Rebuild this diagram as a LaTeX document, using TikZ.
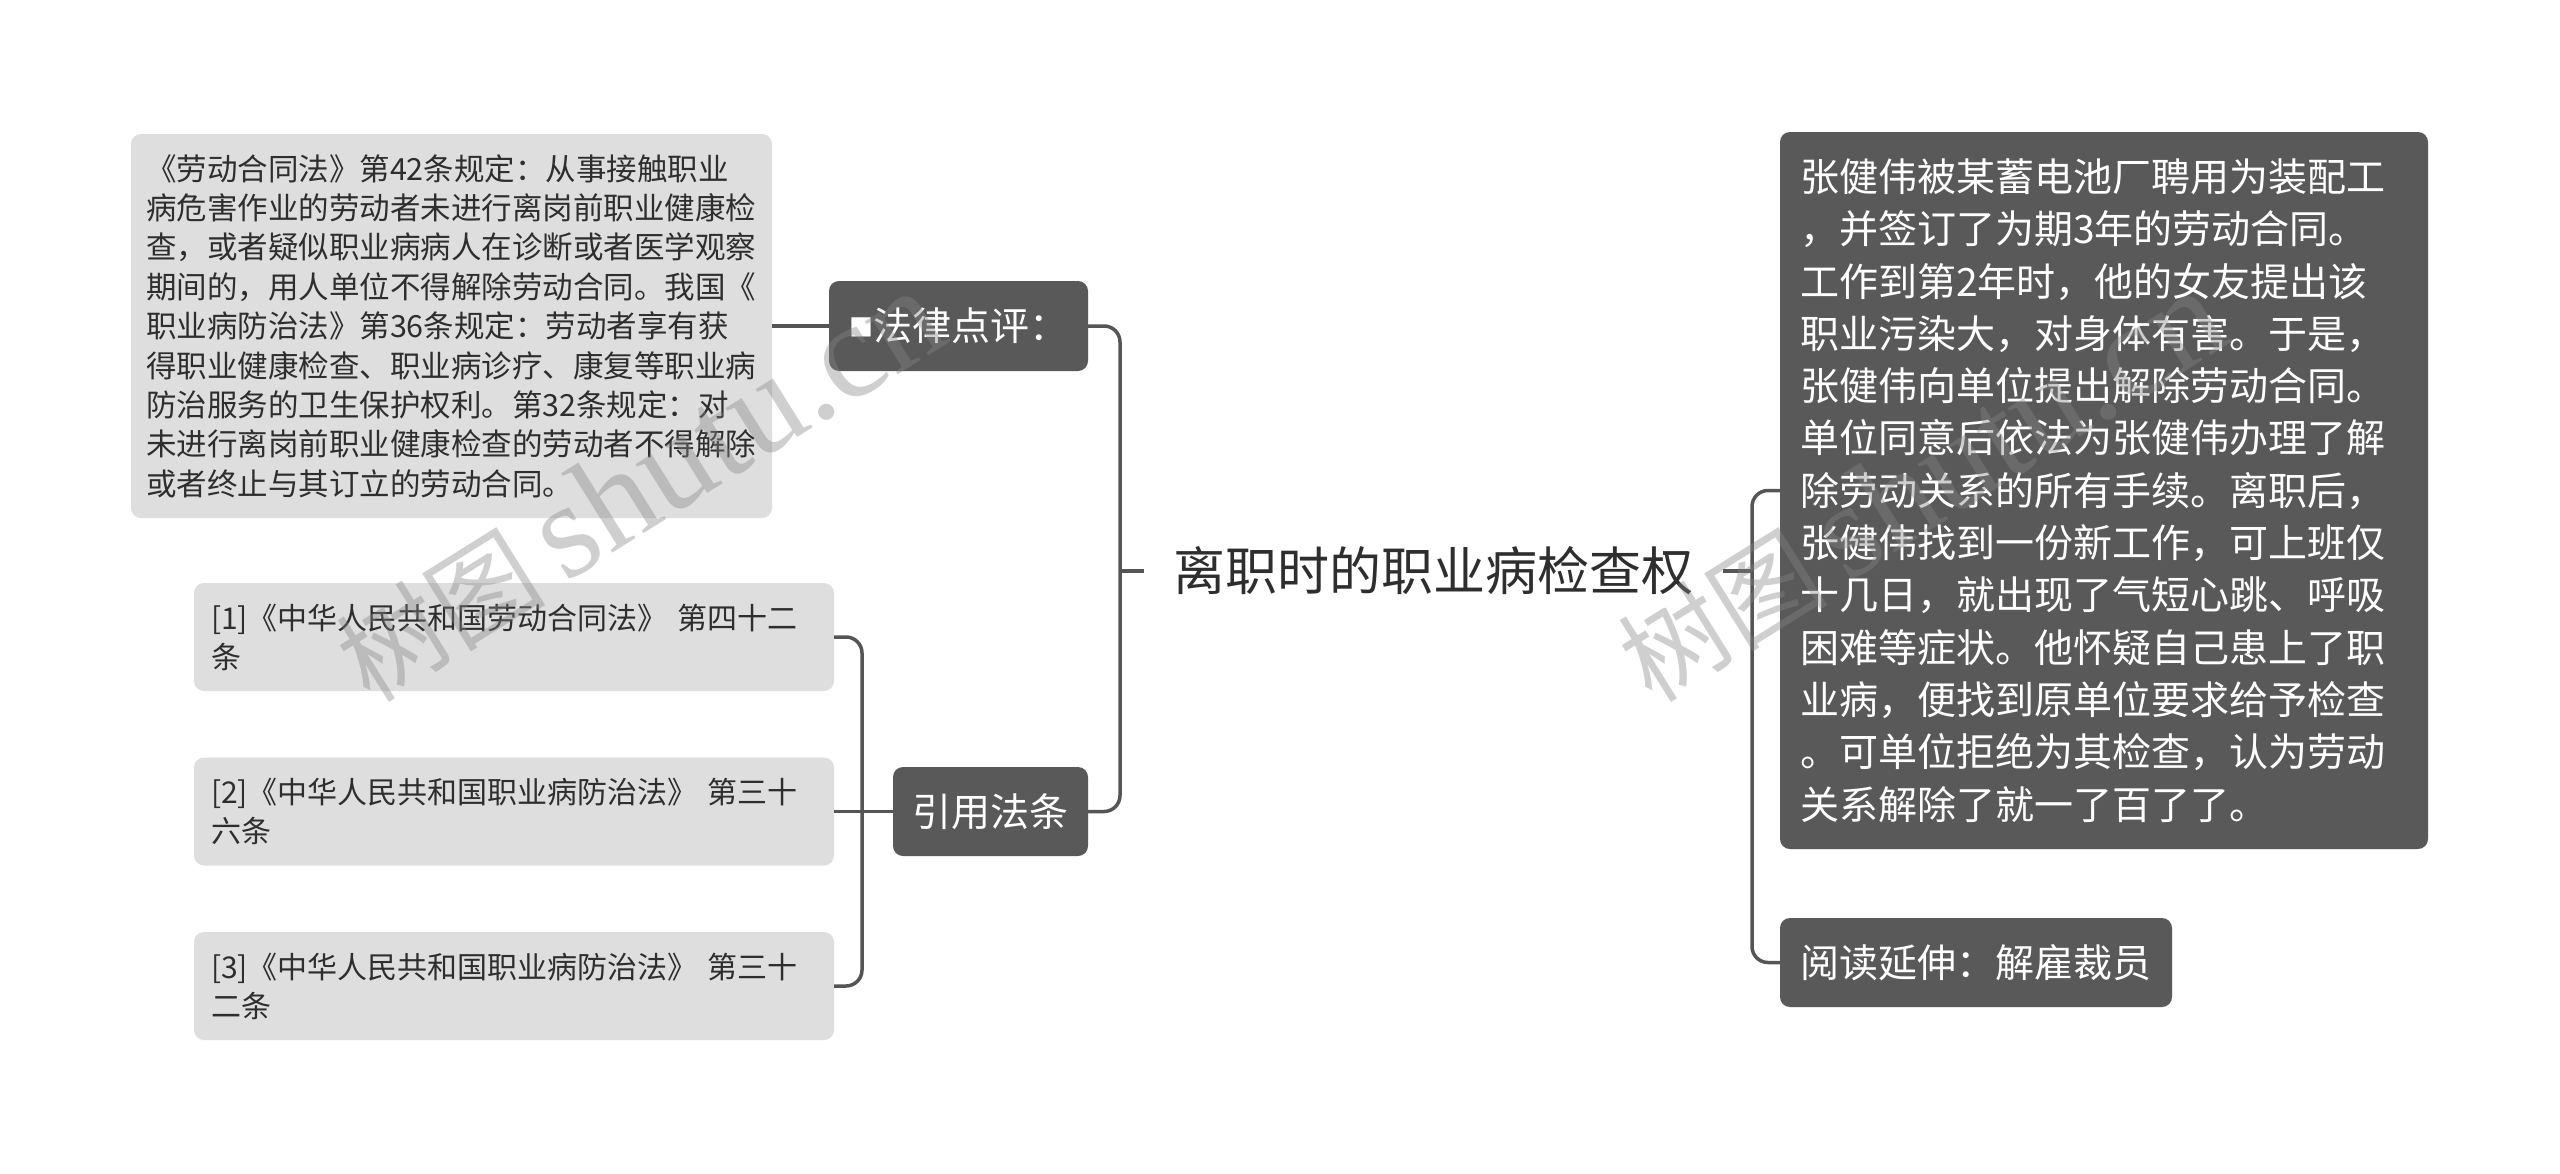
\documentclass[tikz,border=0pt]{standalone}
\usepackage{fontspec}
\setmainfont{Noto Sans CJK SC}
\newfontfamily\wmserif{Liberation Serif}
\definecolor{darknode}{HTML}{595959}
\definecolor{lightnode}{HTML}{DEDEDE}
\definecolor{linecol}{HTML}{555555}
\definecolor{txtdark}{HTML}{2E2E2E}
\definecolor{wmcol}{HTML}{858585}
\tikzset{
  conn/.style={draw=linecol, line width=3.5pt},
  darkbox/.style={fill=darknode, rounded corners=10pt, text=white, inner sep=0pt,
    font=\fontsize{39}{52}\selectfont},
  lightbox/.style={fill=lightnode, rounded corners=10pt, text=txtdark, inner sep=0pt,
    align=left},
  refbox/.style={lightbox, minimum width=640pt, minimum height=108pt, text width=606pt,
    font=\fontsize{30}{39}\selectfont},
  wm/.style={text=wmcol, opacity=0.39, font=\fontsize{105}{110}\selectfont, inner sep=0pt}
}
\begin{document}
\begin{tikzpicture}[x=1pt, y=-1pt]
\useasboundingbox[fill=white] (0,0) rectangle (2560,1173);

% centre title
\node[inner xsep=29pt, inner ysep=0pt, text=txtdark, font=\fontsize{52}{60}\selectfont]
  (title) at (1433.5,571) {离职时的职业病检查权};

% left branch
\node[darkbox, minimum width=259pt, minimum height=90pt] (law) at (958.5,326)
  {\raisebox{4pt}{\fontsize{24}{24}\selectfont ■}法律点评：};
\node[lightbox, minimum width=641pt, minimum height=384pt, text width=611pt,
  font=\fontsize{30.5}{39.4}\selectfont] (lawtext) at (451.5,326) {%
《劳动合同法》第42条规定：从事接触职业\\
病危害作业的劳动者未进行离岗前职业健康检\\
查，或者疑似职业病病人在诊断或者医学观察\\
期间的，用人单位不得解除劳动合同。我国《\\
职业病防治法》第36条规定：劳动者享有获\\
得职业健康检查、职业病诊疗、康复等职业病\\
防治服务的卫生保护权利。第32条规定：对\\
未进行离岗前职业健康检查的劳动者不得解除\\
或者终止与其订立的劳动合同。};

\node[darkbox, minimum width=195pt, minimum height=89pt] (cite) at (990.5,811.5) {引用法条};
\node[refbox] (r1) at (514,637) {\mbox{[1]《中华人民共和国劳动合同法》 第四十二}\\条};
\node[refbox] (r2) at (514,811.5) {\mbox{[2]《中华人民共和国职业病防治法》 第三十}\\六条};
\node[refbox] (r3) at (514,986) {\mbox{[3]《中华人民共和国职业病防治法》 第三十}\\二条};

% right branch
\node[darkbox, minimum width=648pt, minimum height=717pt, text width=608pt, align=left,
  font=\fontsize{39}{52.3}\selectfont] (story) at (2104,490.5) {%
张健伟被某蓄电池厂聘用为装配工\\
，并签订了为期3年的劳动合同。\\
工作到第2年时，他的女友提出该\\
职业污染大，对身体有害。于是，\\
张健伟向单位提出解除劳动合同。\\
单位同意后依法为张健伟办理了解\\
除劳动关系的所有手续。离职后，\\
张健伟找到一份新工作，可上班仅\\
十几日，就出现了气短心跳、呼吸\\
困难等症状。他怀疑自己患上了职\\
业病，便找到原单位要求给予检查\\
。可单位拒绝为其检查，认为劳动\\
关系解除了就一了百了了。};
\node[darkbox, minimum width=392pt, minimum height=89pt] (read) at (1976,962.5) {阅读延伸：解雇裁员};

% connectors
\coordinate (tL) at (1120,571);
\coordinate (tR) at (1752,571);
\coordinate (tC) at (862,811.5);
\draw[conn] (title.west) -- (tL);
\draw[conn, rounded corners=16pt] (law.east) -| (tL) |- (cite.east);
\draw[conn] (title.east) -- (tR);
\draw[conn, rounded corners=16pt] (story.west) -| (tR) |- (read.west);
\draw[conn] (law.west) -- (lawtext.east);
\draw[conn] (cite.west) -- (tC);
\draw[conn, rounded corners=16pt] (r1.east) -| (tC) |- (r3.east);
\draw[conn] (r2.east) -- (tC);

% watermarks
\node[wm, anchor=base west, rotate=32] (wm1) at (370,705)
  {树图\hspace{20pt}{\wmserif\fontsize{136}{140}\selectfont shutu.cn}};
\node[wm, anchor=base west, rotate=32] (wm2) at (1652,705)
  {树图\hspace{20pt}{\wmserif\fontsize{136}{140}\selectfont shutu.cn}};
\end{tikzpicture}
\end{document}
